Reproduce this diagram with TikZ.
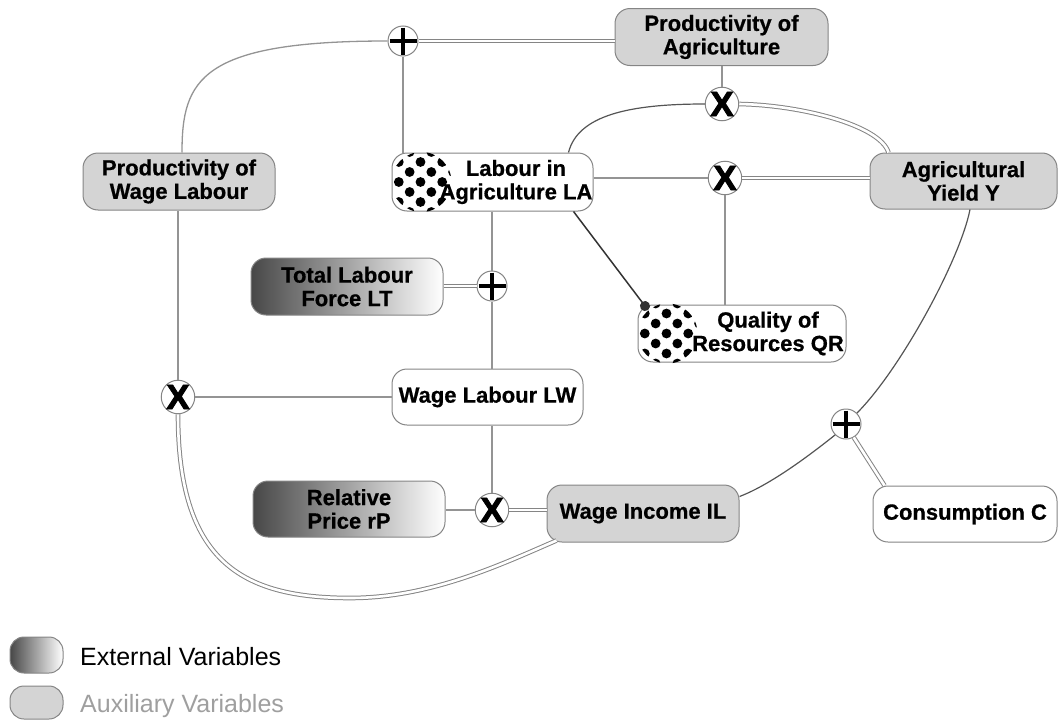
\documentclass[tikz,border=0pt]{standalone}
\usepackage{fontspec}
\setmainfont{Liberation Sans}[BoldFeatures={FakeBold=0.6}]
\newfontfamily\xfont{Liberation Sans}[BoldFeatures={FakeBold=2.5}]
\usetikzlibrary{calc,arrows.meta}
\definecolor{bord}{gray}{0.52}
\definecolor{auxfill}{gray}{0.83}
\definecolor{lline}{gray}{0.58}
\definecolor{dline}{gray}{0.33}
\newcommand\mydotpatch[1]{%
  \begin{scope}
    \clip ([xshift=30pt]#1.west) circle (30pt);
    \foreach \r in {-3,...,3}{\foreach \c in {-2,...,2}{%
      \pgfmathsetmacro\ox{29+21.7*\c+10.85*mod(abs(\r),2)}%
      \pgfmathsetmacro\oy{10*\r}%
      \fill[black] ([xshift=\ox pt, yshift=\oy pt]#1.west) circle (4.9pt);
    }}
  \end{scope}}
\tikzset{
  box/.style={draw=bord, line width=1pt, rounded corners=15pt, inner sep=0pt, align=center,
    font=\bfseries\fontsize{22}{23.5}\selectfont, minimum height=57pt},
  auxbox/.style={box, fill=auxfill},
  plainbox/.style={box, fill=white},
  extbox/.style={box, left color=black!72, right color=white},
  lbl/.style={inner sep=0pt, align=center, font=\bfseries\fontsize{22}{23.5}\selectfont},
  op/.style={circle, draw=bord, fill=white, line width=1pt, minimum size=30pt, inner sep=0pt},
  xop/.style={op, font=\xfont\bfseries\fontsize{35}{35}\selectfont},
  plusop/.style={op, path picture={
    \draw[line width=4.8pt,black] ($(path picture bounding box.center)+(-13.5,0)$) -- ++(27,0);
    \draw[line width=4.8pt,black] ($(path picture bounding box.center)+(0,-13.5)$) -- ++(0,27);}},
  lightline/.style={draw=lline, line width=1.3pt},
  darkline/.style={draw=dline, line width=1.2pt},
  dbl/.style={draw=bord, line width=1pt, double=white, double distance=2.6pt},
}
\begin{document}
\begin{tikzpicture}[x=1pt,y=-1pt]
\useasboundingbox (0,0) rectangle (1058,720);
% nodes
\node[auxbox, minimum width=213pt] (PA) at (721.5,37) {Productivity of\\Agriculture};
\node[plusop] (P1) at (403,41) {};
\node[plainbox, minimum width=201pt, minimum height=58pt] (LA) at (492.5,182) {};
\mydotpatch{LA}
\node[lbl] (LAt) at (516,182) {Labour in\\Agriculture LA};
\node[xop] (X1) at (722,104) {X};
\node[xop] (X2) at (725,178) {X};
\node[auxbox, minimum width=187pt, minimum height=56pt] (Y) at (963.5,181) {Agricultural\\Yield Y};
\node[auxbox, minimum width=192pt] (PWL) at (179,181.5) {Productivity of\\Wage Labour};
\node[extbox, minimum width=192pt] (LT) at (347,286.5) {Total Labour\\Force LT};
\node[plusop] (P2) at (492,286) {};
\node[plainbox, minimum width=191pt, minimum height=56pt] (LW) at (487.5,397) {Wage Labour LW};
\node[plainbox, minimum width=208pt] (QR) at (742,333.5) {};
\mydotpatch{QR}
\node[lbl] (QRt) at (768,333.5) {Quality of\\Resources QR};
\node[xop] (X3) at (178,397) {X};
\node[extbox, minimum width=192pt, minimum height=56pt] (rP) at (349,509) {Relative\\Price rP};
\node[xop] (X4) at (492,510) {X};
\node[auxbox, minimum width=192pt] (IL) at (643,513.5) {Wage Income IL};
\node[plusop] (P3) at (846,424) {};
\node[plainbox, minimum width=184pt, minimum height=56pt] (C) at (965,514) {Consumption C};
\coordinate (qrdot) at (648,310);
% connectors
\draw[dbl] (P1.east) -- (PA.west |- P1);
\draw[lightline] (P1.south) -- (P1 |- LA.north);
\draw[lightline] (P1.west) .. controls (200,41) and (182,80) .. ([xshift=3pt]PWL.north);
\draw[lightline] (X3 |- PWL.south) -- (X3.north);
\draw[lightline] (X3.east) -- (LW.west |- X3);
\draw[dbl] (X3.south) .. controls (178,560) and (240,598) .. (350,598)
   .. controls (430,598) and (500,565) .. ([xshift=10pt,yshift=2pt]IL.south west);
\draw[lightline] (P2 |- LA.south) -- (P2.north);
\draw[dbl] (LT.east |- P2) -- (P2.west);
\draw[lightline] (P2.south) -- (P2 |- LW.north);
\draw[lightline] (P2 |- LW.south) -- (X4.north);
\draw[lightline] (rP.east |- X4) -- (X4.west);
\draw[dbl] (X4.east) -- (IL.west |- X4);
\draw[darkline] ([yshift=17pt]IL.east) .. controls (770,485) and (810,455) .. (P3.225);
\draw[darkline] (P3.45) .. controls (900,370) and (960,260) .. ([xshift=6.5pt]Y.south);
\draw[dbl] ([xshift=12pt]C.north west) -- (P3.300);
\draw[lightline] (LA.east |- X2) -- (X2.west);
\draw[dbl] (Y.west |- X2) -- (X2.east);
\draw[lightline] (X2.south) -- (X2 |- QR.north);
\draw[darkline] ([xshift=-25pt]LA.north east) .. controls (578,115) and (630,104) .. (X1.west);
\draw[dbl] ([xshift=19pt]Y.north west) .. controls (880,125) and (800,105) .. (X1.east);
\draw[lightline] (X1 |- PA.south) -- (X1.north);
\draw[draw=black!80, line width=1.5pt, -{Circle[length=10pt]}] ([xshift=-20pt]LA.south east) -- (qrdot);
% legend
\node[extbox, minimum width=53pt, minimum height=36pt, rounded corners=14pt] (LE) at (36.5,655) {};
\node[auxbox, minimum width=53pt, minimum height=33pt, rounded corners=14pt] (LX) at (36.5,702.5) {};
\node[anchor=base west, inner sep=0pt, font=\fontsize{25}{25}\selectfont] (LEt) at (80,665) {External Variables};
\node[anchor=base west, inner sep=0pt, font=\fontsize{25}{25}\selectfont, text=gray!75] (LXt) at (80,712) {Auxiliary Variables};
\end{tikzpicture}
\end{document}
